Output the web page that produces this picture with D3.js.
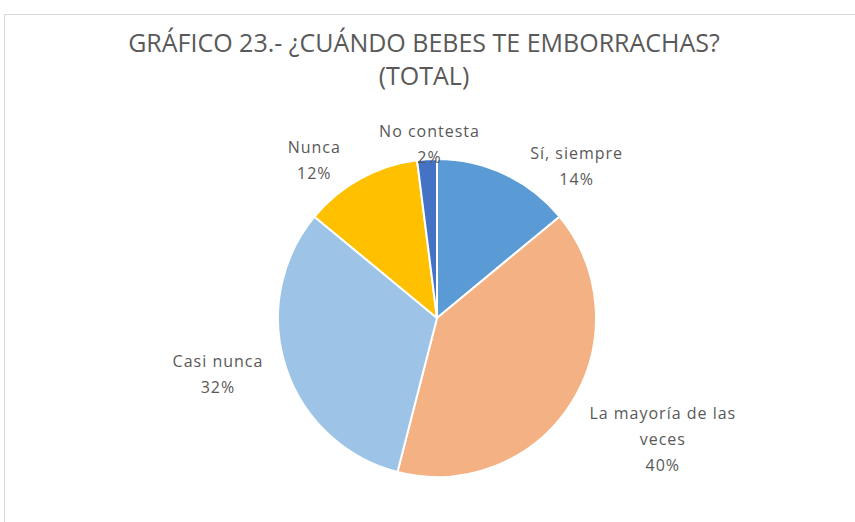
<!DOCTYPE html>
<html>
<head>
<meta charset="utf-8">
<script src="https://cdn.jsdelivr.net/npm/d3@7"></script>
<style>
  body { margin: 0; background: #fff; }
  svg { display: block; }
</style>
</head>
<body>
<div id="chart"></div>
<script>
// data
var categories = ["Sí, siempre", "La mayoría de las veces", "Casi nunca", "Nunca", "No contesta"];
var values = [14, 40, 32, 12, 2];
var labelLines = [["Sí, siempre"], ["La mayoría de las", "veces"], ["Casi nunca"], ["Nunca"], ["No contesta"]];
var colors = ["#5B9BD5", "#F4B183", "#9DC3E6", "#FFC000", "#4472C4"];
var titleLines = ["GRÁFICO 23.- ¿CUÁNDO BEBES TE EMBORRACHAS?", "(TOTAL)"];

// layout
var W = 855, H = 522;
var cx = 437, cy = 318, R = 159;
var labelR = R * 1.25;
// Excel "best fit" label nudges, px from the centroid at labelR
var nudge = [[55, 28], [58, 15], [-30, -5], [-27, 17], [5, 25]];
var lineH = 26;

var svg = d3.select("#chart").append("svg")
    .attr("width", W)
    .attr("height", H);

svg.append("rect")
    .attr("x", 4.5).attr("y", 14.5)
    .attr("width", 900).attr("height", 600)
    .style("fill", "#fff")
    .style("stroke", "#D9D9D9")
    .style("stroke-width", 1);

var title = svg.append("text")
    .attr("text-anchor", "middle")
    .style("font-family", "'Open Sans', sans-serif")
    .style("font-size", "25px")
    .style("fill", "#595959");
title.selectAll("tspan").data(titleLines).enter().append("tspan")
    .attr("x", 424)
    .attr("y", function (d, i) { return 52 + i * 33; })
    .text(function (d) { return d; });

var pie = d3.pie().sort(null).value(function (d) { return d; });
var arcs = pie(values);
var arc = d3.arc().innerRadius(0).outerRadius(R);
var labelArc = d3.arc().innerRadius(labelR).outerRadius(labelR);

var g = svg.append("g").attr("transform", "translate(" + cx + "," + cy + ")");

g.selectAll("path").data(arcs).enter().append("path")
    .attr("d", arc)
    .style("fill", function (d, i) { return colors[i]; })
    .style("stroke", "#fff")
    .style("stroke-width", 2)
    .style("stroke-linejoin", "round");

var labels = g.selectAll("text.lbl").data(arcs).enter().append("text")
    .attr("class", "lbl")
    .attr("text-anchor", "middle")
    .style("font-family", "'Open Sans', sans-serif")
    .style("font-size", "16px")
    .style("letter-spacing", "1px")
    .style("fill", "#595959");

labels.each(function (d, i) {
    var c = labelArc.centroid(d);
    var x = c[0] + nudge[i][0], y = c[1] + nudge[i][1];
    var lines = labelLines[i].concat([values[i] + "%"]);
    var top = y - (lines.length - 1) * lineH / 2;
    d3.select(this).selectAll("tspan").data(lines).enter().append("tspan")
        .attr("x", x)
        .attr("y", function (t, k) { return top + k * lineH; })
        .attr("dy", "0.35em")
        .text(function (t) { return t; });
});
</script>
</body>
</html>
